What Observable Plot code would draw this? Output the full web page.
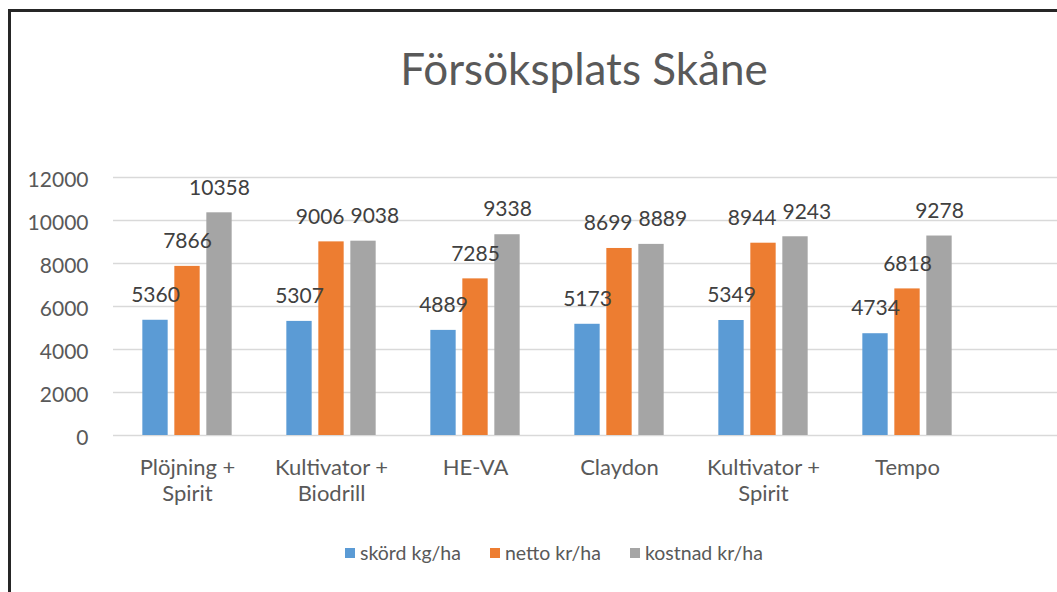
<!DOCTYPE html>
<html><head><meta charset="utf-8">
<script src="https://cdn.jsdelivr.net/npm/d3@7"></script>
<script src="https://cdn.jsdelivr.net/npm/@observablehq/plot@0.6"></script>
<style>
html,body{margin:0;padding:0;background:#fff;overflow:hidden;width:1057px;height:592px}
#frame{position:absolute;left:8px;top:9px;width:1160px;height:600px;border-left:3px solid #262626;border-top:3px solid #262626;font-family:Lato,sans-serif;color:#595959}
#title{position:absolute;left:0;width:1146px;top:32px;text-align:center;font-size:44px;line-height:48px;color:#595959}
#chart{position:absolute;left:0;top:0}
#legend{position:absolute;left:334px;top:529px;display:flex;align-items:center;font-size:19.5px;line-height:24px;color:#595959}
#legend .item{display:flex;align-items:center;margin-right:29px}
#legend .sw{width:10px;height:10px;margin-right:5px}
</style>
</head><body>
<div id="frame">
  <div id="chart"></div>
  <div id="title">Försöksplats Skåne</div>
  <div id="legend"></div>
</div>
<script>
const categories = ["Plöjning +\nSpirit", "Kultivator +\nBiodrill", "HE-VA", "Claydon", "Kultivator +\nSpirit", "Tempo"];
const seriesNames = ["skörd kg/ha", "netto kr/ha", "kostnad kr/ha"];
const skord = [5360, 5307, 4889, 5173, 5349, 4734];
const netto = [7866, 9006, 7285, 8699, 8944, 6818];
const kostnad = [10358, 9038, 9338, 8889, 9243, 9278];
const yTicks = [0, 2000, 4000, 6000, 8000, 10000, 12000];
const colors = ["#5B9BD5", "#ED7D31", "#A5A5A5"];

const seriesValues = [skord, netto, kostnad];

// layout (style) constants
const xRange = [102, 970];
const band = (xRange[1] - xRange[0]) / categories.length;
const barW = 26, gap = 6;
const groupW = seriesNames.length * barW + (seriesNames.length - 1) * gap;
const lead = (band - groupW) / 2;
const labelFont = 21, labelLift = 25;

const rowsBySeries = seriesNames.map((s, j) =>
  categories.map((c, i) => ({cat: c, series: s, value: seriesValues[j][i], i, j})));

function build(shift) {
  const marks = [Plot.gridY(yTicks, {stroke: "#d9d9d9", strokeOpacity: 1, strokeWidth: 1.5})];
  rowsBySeries.forEach((rows, j) => {
    const left = lead + j * (barW + gap);
    marks.push(Plot.barY(rows, {x: "cat", y: "value", fill: colors[j], insetLeft: left, insetRight: band - left - barW}));
  });
  rowsBySeries.forEach((rows, j) => {
    const left = lead + j * (barW + gap);
    const offset = left + barW / 2 - band / 2;
    rows.forEach(r => {
      marks.push(Plot.text([r], {x: "cat", y: "value", text: d => String(d.value),
        dx: offset + (shift ? shift[r.i][r.j] : 0), dy: -labelLift, fill: "#404040", fontSize: labelFont}));
    });
  });
  marks.push(Plot.axisY({ticks: yTicks, tickFormat: d3.format("d"), tickSize: 0, tickPadding: 25, dy: 3, fontSize: 21, fill: "#595959", label: null}));
  marks.push(Plot.axisX({tickSize: 0, tickPadding: 21, fontSize: 22, lineHeight: 1.18, fill: "#595959", label: null}));
  return Plot.plot({
    width: 1146,
    height: 510,
    marginLeft: 102,
    marginRight: 30,
    marginTop: 165,
    marginBottom: 87,
    style: {fontFamily: "Lato, sans-serif", fontSize: "20px", background: "transparent"},
    x: {domain: categories, range: xRange, padding: 0, label: null},
    y: {domain: [0, 12000], label: null},
    marks
  });
}

// first pass: read the scales, then push apart labels that collide within a group
const probe = build(null);
const ys = probe.scale("y");
const ctx = document.createElement("canvas").getContext("2d");
ctx.font = `${labelFont}px Lato`;
const shift = categories.map(() => seriesNames.map(() => 0));
categories.forEach((c, i) => {
  const boxes = seriesNames.map((s, j) => {
    const w = ctx.measureText(String(seriesValues[j][i])).width;
    const cx = lead + j * (barW + gap) + barW / 2;
    const cy = ys.apply(seriesValues[j][i]) - labelLift;
    return {cx, cy, w};
  });
  for (let j = 1; j < boxes.length; j++) {
    const a = boxes[j - 1], b = boxes[j];
    if (Math.abs(a.cy - b.cy) < labelFont) {
      const overlap = (a.cx + shift[i][j - 1] + a.w / 2 + 6) - (b.cx + shift[i][j] - b.w / 2);
      if (overlap > 0) {
        shift[i][j - 1] -= overlap / 2;
        shift[i][j] += overlap / 2;
      }
    }
  }
});

const chart = build(shift);
document.getElementById("chart").appendChild(chart);

const legend = document.getElementById("legend");
seriesNames.forEach((s, j) => {
  const item = document.createElement("div");
  item.className = "item";
  const sw = document.createElement("div");
  sw.className = "sw";
  sw.style.background = colors[j];
  const t = document.createElement("span");
  t.textContent = s;
  item.appendChild(sw); item.appendChild(t);
  legend.appendChild(item);
});
</script>
</body></html>
